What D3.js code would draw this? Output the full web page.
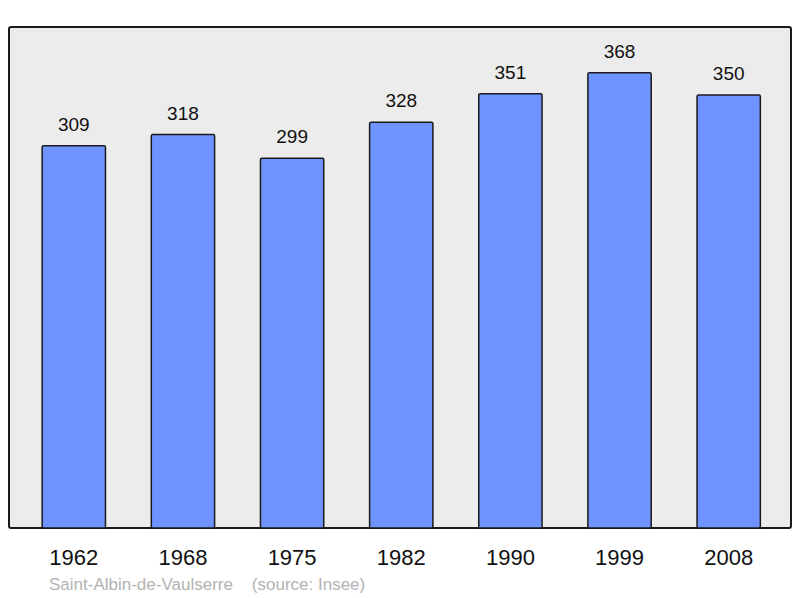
<!DOCTYPE html>
<html>
<head>
<meta charset="utf-8">
<script src="https://cdn.jsdelivr.net/npm/d3@7"></script>
<style>
  body { margin: 0; background: #fff; }
  text { font-family: "Liberation Sans", Arial, sans-serif; }
</style>
</head>
<body>
<div id="chart"></div>
<script>
// data
let years = ["1962", "1968", "1975", "1982", "1990", "1999", "2008"];
let population = [309, 318, 299, 328, 351, 368, 350];
let place = "Saint-Albin-de-Vaulserre";
let source = "(source: Insee)";

var width = 800, height = 598;
var plot = {left: 9, top: 27, right: 791, bottom: 528};

let svg = d3.select("#chart")
            .append("svg")
                .attr("width", width)
                .attr("height", height);

// frame
svg.append("rect")
    .attr("x", plot.left)
    .attr("y", plot.top)
    .attr("width", plot.right - plot.left)
    .attr("height", plot.bottom - plot.top)
    .attr("rx", 2)
    .style("fill", "#ececec")
    .style("stroke", "#1a1a1a")
    .style("stroke-width", 2);

let x = d3.scaleBand()
    .domain(years)
    .range([plot.left + 1.5, plot.right + 1])
    .paddingInner(0.42)
    .paddingOuter(0.29);

let y = d3.scaleLinear()
    .domain([0, 405])
    .range([plot.bottom, plot.top]);

let rows = years.map((yr, i) => ({year: yr, value: population[i]}));

// bars
svg.selectAll("rect.bar")
    .data(rows)
    .enter()
    .append("rect")
        .attr("class", "bar")
        .attr("x", d => x(d.year))
        .attr("y", d => y(d.value))
        .attr("width", x.bandwidth())
        .attr("height", d => y(0) - y(d.value))
        .attr("rx", 1.5)
        .style("fill", "#7094ff")
        .style("stroke", "#1a1a1a")
        .style("stroke-width", 1.5);

// value labels
svg.selectAll("text.value")
    .data(rows)
    .enter()
    .append("text")
        .attr("class", "value")
        .attr("x", d => x(d.year) + x.bandwidth() / 2)
        .attr("y", d => y(d.value) - 15)
        .attr("text-anchor", "middle")
        .style("font-size", "19px")
        .style("fill", "#111")
        .text(d => d.value);

// x axis labels
svg.append("g")
    .attr("transform", "translate(0," + plot.bottom + ")")
    .call(d3.axisBottom(x).tickSize(0).tickPadding(37))
    .call(g => g.select(".domain").remove())
    .selectAll("text")
        .attr("dy", 0)
        .style("font-size", "22px")
        .style("font-family", "'Liberation Sans', Arial, sans-serif")
        .style("fill", "#111");

// footer
svg.append("text")
    .attr("x", 49)
    .attr("y", 590)
    .attr("xml:space", "preserve")
    .style("white-space", "pre")
    .style("font-size", "17px")
    .style("fill", "#b3b3b3")
    .text(place + "    " + source);
</script>
</body>
</html>
